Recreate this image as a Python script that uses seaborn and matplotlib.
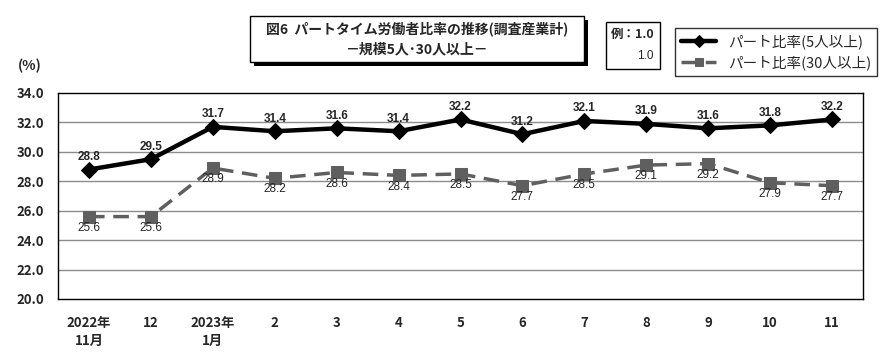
import matplotlib
matplotlib.use("Agg")
import matplotlib.pyplot as plt
from matplotlib.patches import Rectangle
import pandas as pd
import seaborn as sns

# data
months = ["2022年\n11月", "12", "2023年\n1月", "2", "3", "4", "5", "6", "7", "8", "9", "10", "11"]
part5 = [28.8, 29.5, 31.7, 31.4, 31.6, 31.4, 32.2, 31.2, 32.1, 31.9, 31.6, 31.8, 32.2]
part30 = [25.6, 25.6, 28.9, 28.2, 28.6, 28.4, 28.5, 27.7, 28.5, 29.1, 29.2, 27.9, 27.7]
yticks = [20.0, 22.0, 24.0, 26.0, 28.0, 30.0, 32.0, 34.0]

name5 = "パート比率(5人以上)"
name30 = "パート比率(30人以上)"

sns.set_style("white")
plt.rcParams['font.family'] = ['Noto Sans CJK JP', 'DejaVu Sans']

df = pd.DataFrame({"x": [i + 0.5 for i in range(len(months))],
                   name5: part5, name30: part30})

fig = plt.figure(figsize=(8.84, 3.56), dpi=100)
ax = fig.add_axes([58 / 884, 1 - 299 / 356, (863 - 58) / 884, (299 - 93) / 356])

for y in yticks[1:-1]:
    ax.axhline(y, color="#8c8c8c", lw=1, zorder=0)

sns.lineplot(data=df, x="x", y=name30, ax=ax, color="#5f5f5f", lw=2.5,
             linestyle=(0, (4.5, 2.5)), marker="s", markersize=8,
             markeredgecolor="#5f5f5f", zorder=3, label=name30)
sns.lineplot(data=df, x="x", y=name5, ax=ax, color="black", lw=3.2,
             marker="D", markersize=8, markeredgecolor="black", zorder=4,
             label=name5)

for x, v in zip(df["x"], part5):
    ax.text(x, v + 0.45, f"{v:.1f}", ha="center", va="bottom", fontsize=8.5,
            fontweight="bold", family="Liberation Sans")
for x, v in zip(df["x"], part30):
    ax.text(x, v - 0.35, f"{v:.1f}", ha="center", va="top", fontsize=8.5,
            family="Liberation Sans")

ax.set_xlim(0, len(months))
ax.set_ylim(20, 34)
ax.set_xticks(df["x"])
ax.set_xticklabels(months, fontsize=9.5, fontweight="bold", linespacing=1.4)
ax.set_yticks(yticks)
ax.set_yticklabels([f"{t:.1f}" for t in yticks], fontsize=9.5, fontweight="bold")
ax.tick_params(axis="x", length=0, pad=12)
ax.tick_params(axis="y", length=0, pad=10)
ax.set_xlabel("")
ax.set_ylabel("")
for s in ax.spines.values():
    s.set_color("black")
    s.set_linewidth(1)

fig.text(18 / 884, 1 - 66 / 356, "(%)", fontsize=10, fontweight="bold", va="center")

# title box with shadow
fig.patches.append(Rectangle((254 / 884, 1 - 66 / 356), 334 / 884, 46 / 356,
                             transform=fig.transFigure, facecolor="black", edgecolor="none"))
fig.patches.append(Rectangle((250 / 884, 1 - 62 / 356), 334 / 884, 46 / 356,
                             transform=fig.transFigure, facecolor="white", edgecolor="black", lw=1))
fig.text(417 / 884, 1 - 29 / 356, "図6  パートタイム労働者比率の推移(調査産業計)",
         ha="center", va="center", fontsize=10, fontweight="bold")
fig.text(417 / 884, 1 - 49 / 356, "－規模5人･30人以上－",
         ha="center", va="center", fontsize=10, fontweight="bold")

# example box
fig.patches.append(Rectangle((606 / 884, 1 - 69 / 356), 54 / 884, 47 / 356,
                             transform=fig.transFigure, facecolor="white", edgecolor="black", lw=1))
fig.text(654 / 884, 1 - 34 / 356, "例：1.0", ha="right", va="center", fontsize=9,
         fontweight="bold")
fig.text(654 / 884, 1 - 56 / 356, "1.0", ha="right", va="center", fontsize=8.5,
         family="Liberation Sans")

# legend box, black series first
handles, labels = ax.get_legend_handles_labels()
ax.get_legend().remove()
fig.legend(handles[::-1], labels[::-1], loc="upper left",
           bbox_to_anchor=(668 / 884, 1 - 21 / 356), frameon=True, fancybox=False,
           edgecolor="black", handlelength=2.4, borderpad=0.4, markerscale=0.75,
           labelspacing=0.45, prop={"size": 10.5})

fig.savefig("out.png", dpi=100)
